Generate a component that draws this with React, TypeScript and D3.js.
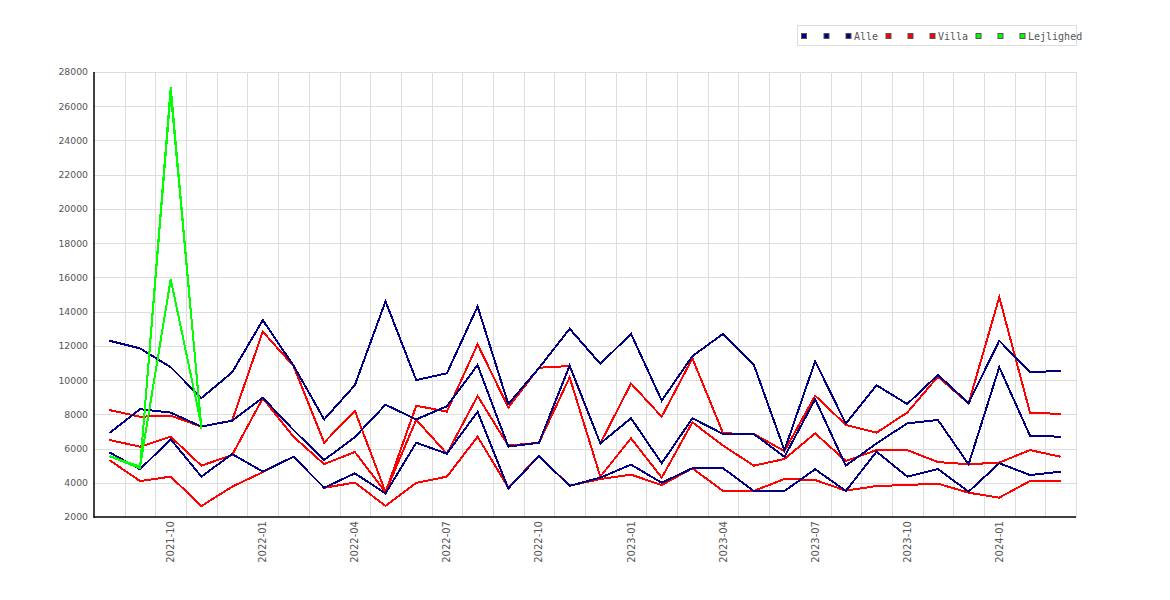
import React, { useEffect, useRef } from 'react'
import * as d3 from 'd3'

// months on the x axis
const months = [
  '2021-08', '2021-09', '2021-10', '2021-11', '2021-12',
  '2022-01', '2022-02', '2022-03', '2022-04', '2022-05', '2022-06', '2022-07', '2022-08', '2022-09', '2022-10', '2022-11', '2022-12',
  '2023-01', '2023-02', '2023-03', '2023-04', '2023-05', '2023-06', '2023-07', '2023-08', '2023-09', '2023-10', '2023-11', '2023-12',
  '2024-01', '2024-02', '2024-03',
]
const monthTicks = ['2021-10', '2022-01', '2022-04', '2022-07', '2022-10', '2023-01', '2023-04', '2023-07', '2023-10', '2024-01']
const yTicks = [2000, 4000, 6000, 8000, 10000, 12000, 14000, 16000, 18000, 20000, 22000, 24000, 26000, 28000]

const alleHigh = [12300, 11850, 10750, 8950, 10450, 13500, 10850, 7700, 9700, 14600, 10000, 10400, 14300, 8600, 10700, 13000, 10950, 12700, 8800, 11400, 12700, 10900, 5900, 11100, 7450, 9700, 8600, 10300, 8650, 12300, 10450, 10550]
const alleMid = [6900, 8300, 8100, 7280, 7630, 8970, 7080, 5330, 6670, 8560, 7700, 8470, 10880, 6110, 6340, 10850, 6300, 7770, 5140, 7770, 6850, 6850, 5520, 8880, 5000, 6300, 7470, 7670, 5080, 10750, 6750, 6690]
const alleLow = [5780, 4790, 6540, 4360, 5680, 4650, 5520, 3710, 4550, 3380, 6340, 5700, 8150, 3670, 5560, 3820, 4300, 5060, 4000, 4850, 4850, 3520, 3520, 4790, 3520, 5820, 4360, 4800, 3480, 5140, 4450, 4650]

const villaHigh = [8250, 7860, 7920, 7280, 7630, 12830, 10820, 6350, 8210, 3450, 8500, 8160, 12090, 8400, 10720, 10820, 6300, 9800, 7860, 11270, 6890, 6850, 5850, 9090, 7380, 6930, 8100, 10200, 8640, 14840, 8100, 8020]
const villaMid = [6500, 6110, 6690, 5000, 5620, 8940, 6690, 5090, 5800, 3450, 7680, 5700, 9070, 6170, 6340, 10160, 4360, 6600, 4300, 7530, 6170, 5000, 5390, 6890, 5270, 5910, 5910, 5210, 5080, 5180, 5910, 5520]
const villaLow = [5330, 4100, 4360, 2640, 3770, 4620, 5520, 3710, 4010, 2650, 3990, 4360, 6690, 3720, 5560, 3830, 4220, 4470, 3870, 4845, 3520, 3520, 4220, 4160, 3540, 3810, 3870, 3950, 3420, 3130, 4100, 4100]

// Lejlighed only has the first four months
const lejHigh = [5560, 4850, 27100, 7150]
const lejMid = [5560, 4900, 26800, 7250]
const lejLow = [5560, 4940, 15900, 7350]

const BLUE = '#000080'
const RED = '#ff0000'
const GREEN = '#00ff00'

export default function App() {
  const ref = useRef<SVGSVGElement | null>(null)

  useEffect(() => {
    const svg = d3.select(ref.current!)
    svg.selectAll('*').remove()
    const width = 1170
    const height = 600
    const margin = { top: 72, right: 94, bottom: 83, left: 94 }
    svg.attr('width', width).attr('height', height)

    const x = d3.scaleBand<string>().domain(months).range([margin.left, width - margin.right]).padding(0)
    const y = d3.scaleLinear().domain([2000, 28000]).range([height - margin.bottom, margin.top])
    const cx = (m: string) => (x(m) ?? 0) + x.bandwidth() / 2

    svg.append('rect').attr('width', width).attr('height', height).attr('fill', '#fff')

    // grid
    const grid = svg.append('g').attr('stroke', '#dddddd').attr('stroke-width', 1)
    grid.selectAll('line.h').data(yTicks.slice(1)).enter().append('line')
      .attr('x1', margin.left).attr('x2', width - margin.right)
      .attr('y1', d => Math.round(y(d)) + 0.5).attr('y2', d => Math.round(y(d)) + 0.5)
    grid.selectAll('line.v').data(months).enter().append('line')
      .attr('x1', d => Math.round((x(d) ?? 0) + x.bandwidth()) + 0.5)
      .attr('x2', d => Math.round((x(d) ?? 0) + x.bandwidth()) + 0.5)
      .attr('y1', margin.top).attr('y2', height - margin.bottom)

    // y labels
    svg.append('g').attr('transform', `translate(${margin.left},0)`)
      .call(d3.axisLeft(y).tickValues(yTicks).tickSize(0).tickPadding(6).tickFormat(d => String(d)))
      .call(g => g.select('.domain').remove())
      .call(g => g.selectAll('text').attr('fill', '#555').attr('font-family', 'DejaVu Sans').attr('font-size', 9.3))

    // x labels
    svg.append('g').selectAll('text').data(monthTicks).enter().append('text')
      .attr('transform', d => `translate(${cx(d) + 3.5},${height - margin.bottom + 4}) rotate(-90)`)
      .attr('text-anchor', 'end')
      .attr('fill', '#555').attr('font-family', 'DejaVu Sans').attr('font-size', 10)
      .text(d => d)

    // axis lines
    svg.append('line').attr('x1', margin.left).attr('x2', margin.left).attr('y1', margin.top).attr('y2', height - margin.bottom + 1)
      .attr('stroke', '#000').attr('stroke-width', 1.5)
    svg.append('line').attr('x1', margin.left).attr('x2', width - margin.right).attr('y1', height - margin.bottom).attr('y2', height - margin.bottom)
      .attr('stroke', '#000').attr('stroke-width', 1.5)

    const line = d3.line<number>().x((_, i) => cx(months[i])).y(d => y(d))
    const series: [number[], string][] = [
      [villaHigh, RED], [villaMid, RED], [villaLow, RED],
      [alleHigh, BLUE], [alleMid, BLUE], [alleLow, BLUE],
      [lejLow, GREEN], [lejMid, GREEN], [lejHigh, GREEN],
    ]
    svg.append('g').selectAll('path').data(series).enter().append('path')
      .attr('d', d => line(d[0]))
      .attr('fill', 'none')
      .attr('stroke', d => d[1])
      .attr('stroke-width', 2)
      .attr('stroke-linejoin', 'miter')
      .attr('shape-rendering', 'crispEdges')

    // legend
    const legend = svg.append('g')
    legend.append('rect').attr('x', 797.5).attr('y', 25.5).attr('width', 279).attr('height', 20)
      .attr('fill', '#fff').attr('stroke', '#dddddd')
    const groups = [
      { name: 'Alle', color: BLUE, xs: [801, 823.5, 845.5], tx: 854 },
      { name: 'Villa', color: RED, xs: [885.5, 907.5, 929.5], tx: 938 },
      { name: 'Lejlighed', color: GREEN, xs: [975.5, 997.5, 1019.5], tx: 1028 },
    ]
    groups.forEach(gr => {
      gr.xs.forEach(sx => {
        legend.append('rect').attr('x', sx + 0.5).attr('y', 33.5).attr('width', 5).attr('height', 5)
          .attr('fill', gr.color).attr('stroke', '#555').attr('stroke-width', 1)
      })
      legend.append('text').attr('x', gr.tx).attr('y', 40)
        .attr('font-family', 'DejaVu Sans Mono').attr('font-size', 10).attr('fill', '#555')
        .text(gr.name)
    })
  }, [])

  return <svg ref={ref} style={{ position: 'absolute', left: 0, top: 0 }} />
}
